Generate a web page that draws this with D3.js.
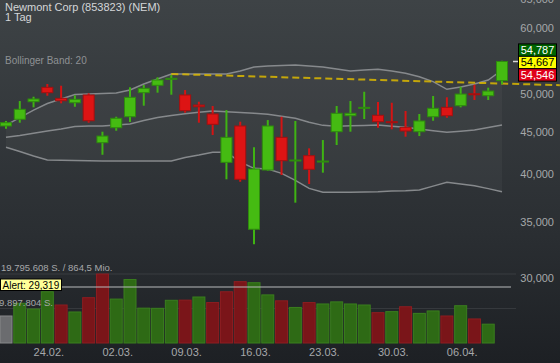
<!DOCTYPE html>
<html>
<head>
<meta charset="utf-8">
<script src="https://cdn.jsdelivr.net/npm/d3@7"></script>
<style>
  body { margin: 0; background: #24282c; overflow: hidden; }
  svg { display: block; font-family: "Liberation Sans", Arial, sans-serif; }
</style>
</head>
<body>
<script>
// trading days, 19.02. - 09.04.
var dates = ["19.02.","20.02.","21.02.","24.02.","25.02.","26.02.","27.02.","28.02.",
  "02.03.","03.03.","04.03.","05.03.","06.03.","09.03.","10.03.","11.03.","12.03.","13.03.",
  "16.03.","17.03.","18.03.","19.03.","20.03.","23.03.","24.03.","25.03.","26.03.","27.03.",
  "30.03.","31.03.","01.04.","02.04.","03.04.","06.04.","07.04.","08.04.","09.04."];
var tickDays = ["24.02.","02.03.","09.03.","16.03.","23.03.","30.03.","06.04."];

var open  = [45.70,46.56,48.89,50.88,49.35,48.75,49.81,43.63,45.48,46.89,50.13,51.17,52.07,49.81,48.44,47.25,41.31,45.70,34.30,40.44,44.28,41.52,42.08,41.42,44.98,47.02,48.08,47.08,46.25,45.53,44.98,46.89,48.13,48.35,49.98,49.71,51.83];
var high  = [46.34,48.98,49.57,51.35,51.11,49.76,50.04,44.98,46.89,50.88,51.21,52.32,52.65,50.50,48.89,48.31,47.77,46.25,43.07,46.46,46.89,46.34,42.95,43.95,48.31,48.98,50.26,48.85,48.75,47.64,47.25,49.67,49.49,50.97,51.25,50.83,54.787];
var low   = [45.36,46.12,48.13,49.71,48.67,48.21,46.12,42.19,45.10,46.21,48.35,50.13,49.85,47.42,46.12,44.57,39.41,39.14,32.90,40.36,39.88,36.93,38.90,40.14,43.35,44.98,46.59,45.48,45.28,44.36,44.44,46.37,46.76,48.13,49.12,49.12,51.31];
var close = [46.12,47.87,49.26,50.13,49.02,49.21,46.37,44.44,46.69,49.49,50.74,51.93,52.17,47.68,48.21,45.91,44.28,39.41,40.55,45.70,41.50,41.58,40.52,41.46,47.34,47.34,48.13,46.25,46.21,45.07,46.34,48.00,47.02,49.94,49.94,50.36,54.667];

// Bollinger band (20)
var bbUpper = [45.82,46.77,47.77,48.64,49.26,49.88,49.94,50.01,50.08,50.50,51.35,52.07,52.80,52.80,52.80,52.80,52.80,53.24,53.83,53.98,54.06,54.13,53.98,53.83,53.54,53.24,53.39,53.49,53.24,52.90,52.40,51.70,50.60,50.93,51.35,51.93,53.39];
var bbMiddle = [44.28,44.51,44.78,45.07,45.32,45.63,45.70,45.70,45.82,45.95,46.41,46.79,47.06,47.29,47.47,47.64,47.56,47.45,47.34,47.22,46.96,46.69,46.19,45.78,45.66,45.73,45.77,45.82,45.67,45.53,45.32,45.10,44.90,45.05,45.18,45.51,45.82];
var bbLower = [43.07,42.57,42.04,41.58,41.54,41.52,41.49,41.46,41.46,41.46,41.46,41.46,41.46,41.87,42.15,42.48,42.48,41.35,40.63,40.55,40.06,39.29,38.43,38.01,38.01,38.01,38.04,38.07,38.16,38.17,38.25,38.67,39.08,38.90,38.72,38.40,38.07];

// volume in million shares, colour: n = neutral, u = up, d = down
var volume = [7.75,11.4,9.75,14.7,10.9,8.9,13.0,19.795608,12.6,18.2,10.0,9.95,12.25,12.3,13.2,11.6,14.7,17.6,17.3,13.8,12.1,10.2,11.6,11.2,11.8,11.2,10.9,8.7,9.0,10.4,8.5,9.2,7.75,10.7,6.9,5.4];
var volDir = ["n","u","u","u","d","u","d","d","u","u","u","u","u","d","u","d","d","d","u","u","d","u","d","u","u","u","u","d","u","d","u","u","d","u","d","u"];

var priceTicks = [35, 40, 45, 50, 55, 60, 65];
var quotes = [54.787, 54.667, 54.546];   // high / last / low quote boxes
var trend = [[12, 52.80], [40.2, 51.18]];
var alertValue = 29.319;
var alertTicks = [30];
var volMaxShares = 19795608;
var turnover = "864,5 Mio.";

var w = 560, h = 363;
var de = d3.formatLocale({decimal: ",", thousands: ".", grouping: [3], currency: ["", " €"]});
var f3 = de.format(",.3f"), fInt = de.format(",d");

var svg = d3.select("body").append("svg").attr("width", w).attr("height", h);

var defs = svg.append("defs");
var grad = defs.append("linearGradient").attr("id", "bg").attr("x1", 0).attr("y1", 0).attr("x2", 0).attr("y2", 1);
grad.append("stop").attr("offset", "0%").attr("stop-color", "#3e4346");
grad.append("stop").attr("offset", "65%").attr("stop-color", "#2a2e32");
grad.append("stop").attr("offset", "100%").attr("stop-color", "#1d2024");
svg.append("rect").attr("width", w).attr("height", h).attr("fill", "url(#bg)");

var x = d3.scaleLinear().domain([0, 36]).range([6, 502]);
var y = d3.scaleLog().domain([35, 60]).range([222, 28]);
var yVol = d3.scaleLinear().domain([0, volMaxShares / 1e6]).range([343, 274]);
var yAlert = d3.scaleLinear().domain([alertValue, 30]).range([287, 278]);

// band area
var idx = d3.range(dates.length);
svg.append("path")
  .attr("d", d3.area().x(function(i) { return x(i); }).y0(function(i) { return y(bbLower[i]); }).y1(function(i) { return y(bbUpper[i]); })(idx))
  .attr("fill", "rgba(255,255,255,0.035)");

[bbUpper, bbMiddle, bbLower].forEach(function(arr) {
  svg.append("path")
    .attr("d", d3.line().x(function(i) { return x(i); }).y(function(i) { return y(arr[i]); })(idx))
    .attr("fill", "none").attr("stroke", "#86898c").attr("stroke-width", 1.5);
});

// trend line
svg.append("line")
  .attr("x1", x(trend[0][0])).attr("y1", y(trend[0][1]))
  .attr("x2", x(trend[1][0])).attr("y2", y(trend[1][1]))
  .attr("stroke", "#dcb800").attr("stroke-width", 2).attr("stroke-dasharray", "7,4").attr("opacity", 0.85);

// candles
var bw = 11;
var candles = svg.append("g").selectAll("g").data(idx).enter().append("g");
candles.append("line")
  .attr("x1", function(i) { return x(i); }).attr("x2", function(i) { return x(i); })
  .attr("y1", function(i) { return y(high[i]); }).attr("y2", function(i) { return y(low[i]); })
  .attr("stroke", function(i) { return close[i] >= open[i] ? "#3fb313" : "#d41414"; })
  .attr("stroke-width", 2);
candles.append("rect")
  .attr("x", function(i) { return x(i) - bw / 2; })
  .attr("width", bw)
  .attr("y", function(i) { return y(Math.max(open[i], close[i])); })
  .attr("height", function(i) { return Math.max(1, y(Math.min(open[i], close[i])) - y(Math.max(open[i], close[i]))); })
  .attr("fill", function(i) { return close[i] >= open[i] ? "#45bb12" : "#dd1414"; })
  .attr("stroke", function(i) { return close[i] >= open[i] ? "#2e8a0e" : "#a31010"; })
  .attr("stroke-width", 1);

// price axis
var yAxis = d3.axisRight(y).tickValues(priceTicks).tickFormat(f3).tickSize(0).tickPadding(0);
var ga = svg.append("g").attr("transform", "translate(554,0)").call(yAxis);
ga.select(".domain").remove();
ga.selectAll("text").attr("text-anchor", "end").attr("fill", "#a6a8aa").style("font-size", "11px").style("font-family", "inherit");

// last price marker and quote boxes
svg.append("line").attr("x1", 513).attr("x2", 518)
  .attr("y1", y(quotes[1])).attr("y2", y(quotes[1]))
  .attr("stroke", "#d8d8d8").attr("stroke-width", 1.5);
var qFill = ["#006400", "#ffff00", "#e0001a"], qText = ["#ffffff", "#000000", "#ffffff"];
var qy = y(quotes[1]) + 1 - 6.2;
quotes.forEach(function(q, k) {
  var top = qy + (k - 1) * 12.4;
  svg.append("rect").attr("x", 518.5).attr("y", top).attr("width", 38).attr("height", 12.4)
    .attr("fill", qFill[k]).attr("stroke", "#000").attr("stroke-width", 1);
  svg.append("text").attr("x", 537.5).attr("y", top + 10).attr("text-anchor", "middle")
    .attr("fill", qText[k]).style("font-size", "11px").text(f3(q));
});

// titles
svg.append("text").attr("x", 5).attr("y", 10.5).attr("fill", "#d4d6d8").style("font-size", "11px").text("Newmont Corp (853823) (NEM)");
svg.append("text").attr("x", 5).attr("y", 20.5).attr("fill", "#d4d6d8").style("font-size", "11px").text("1 Tag");
svg.append("text").attr("x", 5).attr("y", 64).attr("fill", "#8e9194").style("font-size", "10px").text("Bollinger Band: 20");

// volume panel
var vg = svg.append("g");
[volMaxShares, volMaxShares / 2].forEach(function(v) {
  vg.append("line").attr("x1", 0).attr("x2", 516).attr("y1", yVol(v / 1e6)).attr("y2", yVol(v / 1e6))
    .attr("stroke", "rgba(255,255,255,0.09)").attr("stroke-width", 1);
});
var vFill = {n: "#6b6c6f", u: "#2e6a15", d: "#7a1519"}, vStroke = {n: "#87888a", u: "#3a7e1e", d: "#8e1d21"};
vg.selectAll("rect.v").data(volume).enter().append("rect").attr("class", "v")
  .attr("x", function(d, i) { return x(i) - 6; })
  .attr("width", 12)
  .attr("y", function(d) { return yVol(d); })
  .attr("height", function(d) { return yVol(0) - yVol(d); })
  .attr("fill", function(d, i) { return vFill[volDir[i]]; })
  .attr("stroke", function(d, i) { return vStroke[volDir[i]]; })
  .attr("stroke-width", 1);

vg.append("text").attr("x", 1).attr("y", yVol(volMaxShares / 1e6) - 3).attr("fill", "#a6a8aa").style("font-size", "9.5px")
  .text(fInt(volMaxShares) + " S. / " + turnover);
vg.append("text").attr("x", -1).attr("y", yVol(volMaxShares / 2e6) - 3).attr("fill", "#a6a8aa").style("font-size", "9.5px")
  .text(fInt(Math.round(volMaxShares / 2)) + " S.");

// alert line
vg.append("line").attr("x1", 0).attr("x2", 511).attr("y1", yAlert(alertValue)).attr("y2", yAlert(alertValue))
  .attr("stroke", "#b8babc").attr("stroke-width", 1);
vg.append("rect").attr("x", 0.5).attr("y", yAlert(alertValue) - 8).attr("width", 61).attr("height", 11.5)
  .attr("fill", "#ffff99").attr("stroke", "#000").attr("stroke-width", 1);
vg.append("text").attr("x", 2.5).attr("y", yAlert(alertValue) + 1.5).attr("fill", "#000").style("font-size", "10px")
  .text("Alert: " + f3(alertValue));
var aAxis = d3.axisRight(yAlert).tickValues(alertTicks).tickFormat(f3).tickSize(0).tickPadding(0);
var gaa = vg.append("g").attr("transform", "translate(554,0)").call(aAxis);
gaa.select(".domain").remove();
gaa.selectAll("text").attr("text-anchor", "end").attr("fill", "#a6a8aa").style("font-size", "11px").style("font-family", "inherit");

// date axis
var xAxis = d3.axisBottom(x)
  .tickValues(tickDays.map(function(d) { return dates.indexOf(d); }))
  .tickFormat(function(i) { return dates[i]; })
  .tickSize(0).tickPadding(0);
var gx = svg.append("g").attr("transform", "translate(1,348)").call(xAxis);
gx.select(".domain").remove();
gx.selectAll("text").attr("fill", "#a6a8aa").style("font-size", "11px").style("font-family", "inherit");
</script>
</body>
</html>
